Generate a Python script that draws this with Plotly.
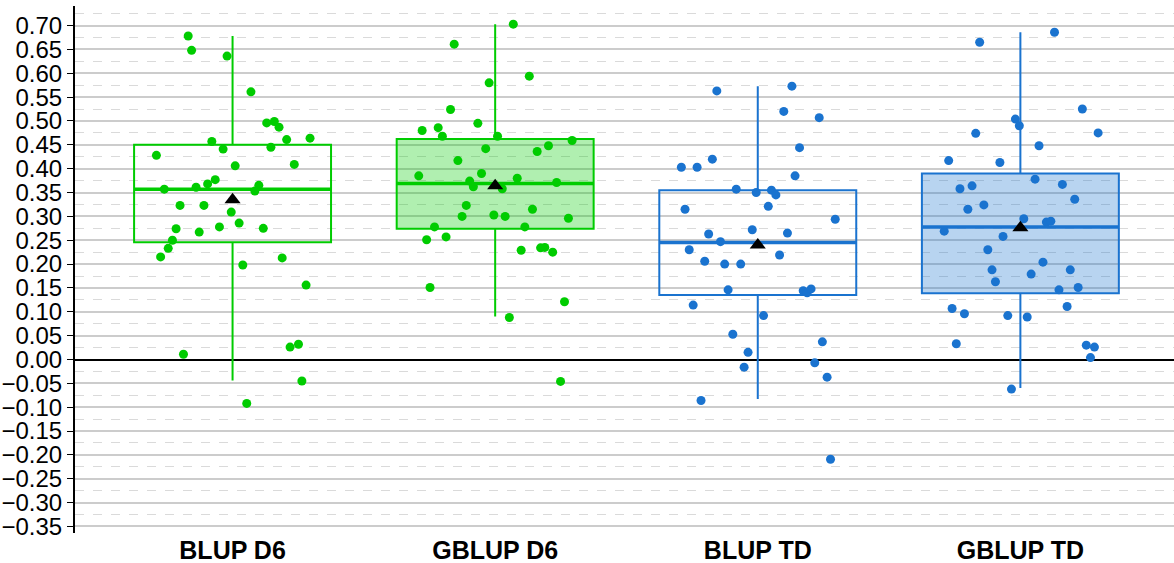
import plotly.graph_objects as go

categories = ["BLUP D6", "GBLUP D6", "BLUP TD", "GBLUP TD"]

# Box statistics
q1_values = [0.246, 0.274, 0.135, 0.139]
median_values = [0.357, 0.369, 0.245, 0.278]
q3_values = [0.450, 0.462, 0.355, 0.390]
lower_whisker = [-0.044, 0.090, -0.083, -0.060]
upper_whisker = [0.678, 0.703, 0.573, 0.686]
mean_values = [0.335, 0.364, 0.240, 0.276]

# Individual points (value, horizontal jitter offset in category units)
blup_d6_y = [0.678, 0.648, 0.636, 0.561, 0.496, 0.499, 0.487, 0.461, 0.464, 0.457,
             0.441, 0.445, 0.428, 0.406, 0.409, 0.377, 0.368, 0.361, 0.357, 0.365,
             0.353, 0.323, 0.323, 0.309, 0.286, 0.274, 0.278, 0.275, 0.267, 0.250,
             0.233, 0.215, 0.213, 0.198, 0.156, 0.026, 0.032, 0.011, -0.045, -0.092]
blup_d6_jit = [-0.169, -0.156, -0.021, 0.070, 0.130, 0.159, 0.177, 0.206, 0.295, -0.079,
               -0.036, 0.146, -0.290, 0.010, 0.235, -0.066, -0.095, -0.139, -0.260, 0.100,
               0.085, -0.200, -0.109, -0.005, 0.025, -0.215, -0.050, 0.117, -0.127, -0.229,
               -0.245, -0.274, 0.189, 0.039, 0.280, 0.219, 0.251, -0.187, 0.264, 0.054]

gblup_d6_y = [0.703, 0.661, 0.594, 0.580, 0.524, 0.495, 0.480, 0.486, 0.468, 0.468,
              0.459, 0.448, 0.442, 0.436, 0.417, 0.385, 0.390, 0.380, 0.374, 0.362,
              0.371, 0.358, 0.323, 0.315, 0.300, 0.303, 0.300, 0.296, 0.278, 0.278,
              0.257, 0.251, 0.229, 0.234, 0.235, 0.225, 0.151, 0.121, 0.088, -0.046]
gblup_d6_jit = [0.069, -0.156, 0.130, -0.023, -0.170, -0.066, -0.278, -0.217, -0.201, 0.009,
                0.293, 0.203, -0.036, 0.160, -0.142, -0.291, -0.052, 0.084, -0.097, -0.083,
                0.234, 0.027, -0.110, 0.142, -0.126, -0.005, 0.038, 0.279, -0.231, 0.113,
                -0.187, -0.261, 0.099, 0.173, 0.189, 0.219, -0.248, 0.264, 0.054, 0.249]

blup_td_y = [0.573, 0.563, 0.520, 0.507, 0.444, 0.420, 0.403, 0.403, 0.385, 0.357,
             0.350, 0.355, 0.345, 0.321, 0.315, 0.294, 0.272, 0.263, 0.265, 0.247,
             0.230, 0.219, 0.206, 0.200, 0.200, 0.146, 0.144, 0.140, 0.148, 0.114,
             0.092, 0.053, 0.037, 0.015, -0.007, -0.016, -0.037, -0.086, -0.209]
blup_td_jit = [0.130, -0.156, 0.099, 0.234, 0.159, -0.173, -0.291, -0.231, 0.142, -0.082,
               -0.006, 0.052, 0.069, 0.040, -0.277, 0.295, -0.021, -0.187, 0.113, -0.142,
               -0.261, 0.083, -0.202, -0.126, -0.065, -0.113, 0.173, 0.188, 0.203, -0.246,
               0.022, -0.095, 0.246, -0.037, 0.217, -0.052, 0.264, -0.216, 0.277]

gblup_td_y = [0.686, 0.665, 0.525, 0.504, 0.490, 0.474, 0.475, 0.448, 0.417, 0.413,
              0.378, 0.367, 0.358, 0.364, 0.336, 0.324, 0.315, 0.295, 0.288, 0.290,
              0.269, 0.258, 0.230, 0.204, 0.188, 0.188, 0.179, 0.163, 0.146, 0.151,
              0.111, 0.107, 0.096, 0.092, 0.089, 0.033, 0.030, 0.026, 0.004, -0.062]
gblup_td_jit = [0.130, -0.155, 0.236, -0.019, -0.004, -0.170, 0.296, 0.071, -0.273, -0.078,
                0.056, 0.160, -0.230, -0.184, 0.207, -0.139, -0.200, 0.013, 0.099, 0.116,
                -0.290, -0.066, -0.124, 0.086, -0.108, 0.190, 0.041, -0.095, 0.147, 0.220,
                0.178, -0.260, -0.213, -0.048, 0.026, -0.244, 0.251, 0.282, 0.267, -0.034]

points_y = [blup_d6_y, gblup_d6_y, blup_td_y, gblup_td_y]
points_jit = [blup_d6_jit, gblup_d6_jit, blup_td_jit, gblup_td_jit]

GREEN = "#00cc00"
BLUE = "#1a73cf"
line_colors = [GREEN, GREEN, BLUE, BLUE]
fill_colors = ["rgba(0,0,0,0)", "rgba(0,204,0,0.31)", "rgba(0,0,0,0)", "rgba(26,115,207,0.31)"]
BOX_W = 0.75

fig = go.Figure()

for i, cat in enumerate(categories):
    fig.add_trace(go.Box(
        x=[i], q1=[q1_values[i]], median=[median_values[i]], q3=[q3_values[i]],
        lowerfence=[lower_whisker[i]], upperfence=[upper_whisker[i]],
        width=BOX_W, whiskerwidth=0, boxpoints=False,
        fillcolor=fill_colors[i], line=dict(color=line_colors[i], width=2),
        hoverinfo="skip", showlegend=False,
    ))

for i, cat in enumerate(categories):
    fig.add_trace(go.Scatter(
        x=[i + j for j in points_jit[i]], y=points_y[i], mode="markers",
        marker=dict(color=line_colors[i], size=9, line=dict(width=0)),
        showlegend=False, name=cat,
    ))

for i, cat in enumerate(categories):
    fig.add_trace(go.Scatter(
        x=[i - BOX_W / 2, i + BOX_W / 2], y=[median_values[i]] * 2, mode="lines",
        line=dict(color=line_colors[i], width=3.5), showlegend=False, hoverinfo="skip",
    ))

fig.add_trace(go.Scatter(
    x=list(range(len(categories))), y=mean_values, mode="markers",
    marker=dict(symbol="triangle-up", color="black", size=14, line=dict(width=0)),
    showlegend=False, name="mean",
))

fig.update_layout(
    width=1174, height=563,
    margin=dict(l=75, r=0, t=6, b=30),
    paper_bgcolor="white", plot_bgcolor="white",
    font=dict(family="Liberation Sans, Arial, sans-serif", color="black"),
    xaxis=dict(
        range=[-0.6, 3.585], tickmode="array",
        tickvals=list(range(len(categories))), ticktext=categories,
        tickfont=dict(size=25, family="Liberation Sans, Arial, sans-serif", weight="bold"),
        showgrid=False, zeroline=False, showline=False, ticks="",
    ),
    yaxis=dict(
        range=[-0.3637, 0.741], tick0=0, dtick=0.05, tickformat=".2f",
        tickfont=dict(size=24), ticks="outside", ticklen=6, tickcolor="black", tickwidth=1,
        showline=True, linecolor="black", linewidth=2,
        showgrid=True, gridcolor="#cccccc", gridwidth=2,
        zeroline=True, zerolinecolor="black", zerolinewidth=2,
        minor=dict(dtick=0.025, tick0=0, showgrid=True, gridcolor="#dadada",
                   gridwidth=1, griddash="dash", ticks=""),
    ),
)

fig.write_html("out.html", config={"displayModeBar": False},
               post_script="document.body.style.margin='0';")
